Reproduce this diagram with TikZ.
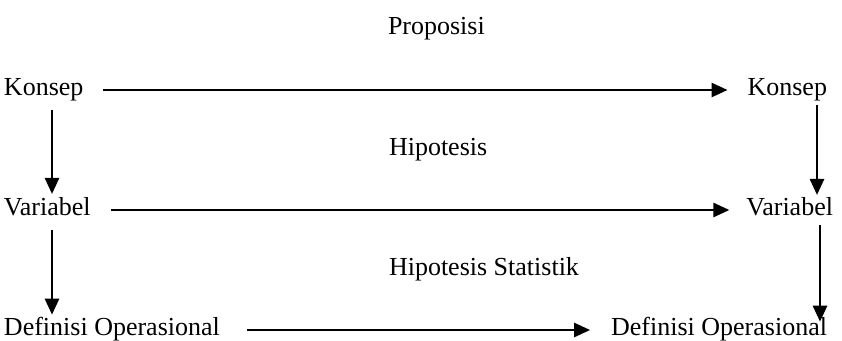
\documentclass[tikz,border=0pt]{standalone}
\usepackage{fontspec}
\setmainfont{Liberation Serif}
\usetikzlibrary{arrows.meta}
\begin{document}
\begin{tikzpicture}[x=1pt,y=-1pt,
  font=\fontsize{26}{30}\selectfont,
  lbl/.style={inner sep=0pt, outer sep=0pt},
  arr/.style={line width=2.6pt, -{Triangle[length=16pt,width=14pt]}}]
\useasboundingbox (0,0) rectangle (842,340);
\coordinate (lx) at (52,0);
\coordinate (rxa) at (817,0);
\coordinate (rxb) at (820,0);
\node[lbl, anchor=base west] (k1) at (4,95) {Konsep};
\node[lbl, anchor=base east] (k2) at (827,95) {Konsep};
\node[lbl, anchor=base west] (v1) at (4,215) {Variabel};
\node[lbl, anchor=base east] (v2) at (833,215) {Variabel};
\node[lbl, anchor=base west] (d1) at (4,335) {Definisi Operasional};
\node[lbl, anchor=base east] (d2) at (827,335) {Definisi Operasional};
\node[lbl, anchor=base west] (p) at (388,34) {Proposisi};
\node[lbl, anchor=base west] (h) at (389,155) {Hipotesis};
\node[lbl, anchor=base west] (hs) at (389,275) {Hipotesis Statistik};
% horizontal arrows
\draw[arr, shorten <=20pt, shorten >=20pt] ([yshift=5pt]k1.base east) -- ([yshift=5pt]k2.base west);
\draw[arr, shorten <=20pt, shorten >=17pt] ([yshift=5pt]v1.base east) -- ([yshift=5pt]v2.base west);
\draw[arr, shorten <=27pt, shorten >=21pt] ([yshift=5pt]d1.base east) -- ([yshift=5pt]d2.base west);
% vertical arrows
\draw[arr, shorten <=9pt, shorten >=3pt] (k1.south -| lx) -- (v1.north -| lx);
\draw[arr, shorten <=15pt, shorten >=2pt] (v1.south -| lx) -- (d1.north -| lx);
\draw[arr, shorten <=4pt, shorten >=2pt] (k2.south -| rxa) -- (v2.north -| rxa);
\draw[arr, shorten <=10pt, shorten >=-5pt] (v2.south -| rxb) -- (d2.north -| rxb);
\end{tikzpicture}
\end{document}
